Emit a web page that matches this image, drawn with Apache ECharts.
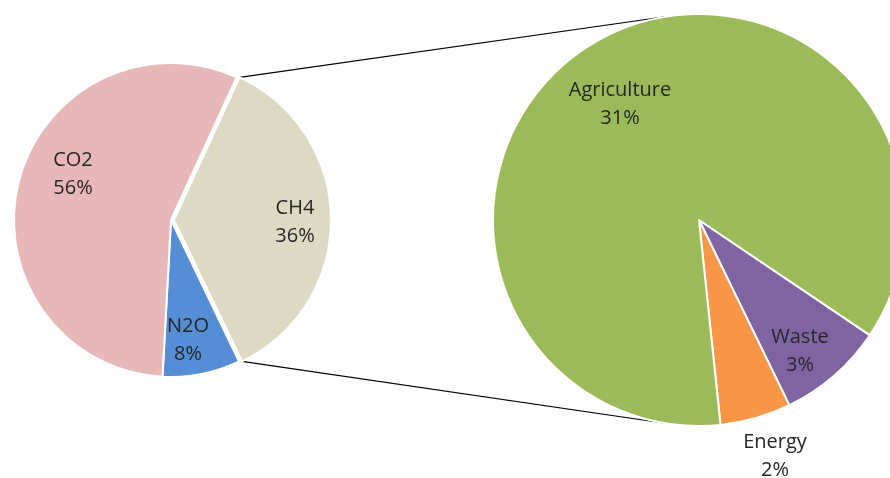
<!DOCTYPE html>
<html>
<head>
<meta charset="utf-8">
<title>Greenhouse gas emissions</title>
<script src="https://cdn.jsdelivr.net/npm/echarts@6/dist/echarts.min.js"></script>
<style>
  html, body { margin: 0; padding: 0; background: #fff; }
  #chart { width: 890px; height: 478px; }
</style>
</head>
<body>
<div id="chart"></div>
<script>
// Main pie: share of each gas (CH4 is broken down in the second pie)
const gasNames = ['CH4', 'N2O', 'CO2'];
const gasShares = [36, 8, 56];
const gasColors = ['#DDD9C3', '#558ED5', '#E6B9B8'];

// Breakdown of CH4 by source (percent of total emissions)
const sourceNames = ['Waste', 'Energy', 'Agriculture'];
const sourceShares = [3, 2, 31];
const sourceColors = ['#8064A2', '#F79646', '#9BBB59'];

// Layout of the two pies
const mainPie = { cx: 171, cy: 220, r: 157, start: 65.3, explode: 3 };
const subPie = { cx: 699, cy: 220, r: 206, start: -34 };
const connectorSpread = 8.5; // degrees either side of the vertical on the second pie
const explodedIndex = 0;     // CH4 is pulled out towards the breakdown

// Label anchors, as offsets from each pie's centre
const mainLabelOffsets = [[124, 2], [17, 120], [-98, -46]];
const subLabelOffsets = [[101, 131], [76, 236], [-79, -116]];

const chart = echarts.init(document.getElementById('chart'), null, { renderer: 'canvas' });

const textStyle = {
  show: true,
  position: 'inside',
  formatter: '{b}\n{c}%',
  color: '#262626',
  fontFamily: 'Open Sans',
  fontSize: 20,
  lineHeight: 28
};

// Point on a circle given a clockwise angle from 12 o'clock
function polar(cx, cy, r, clockDeg) {
  const a = clockDeg * Math.PI / 180;
  return [cx + r * Math.sin(a), cy - r * Math.cos(a)];
}

// Geometry of the exploded CH4 slice
const total = gasShares.reduce((s, v) => s + v, 0);
const ch4From = 90 - mainPie.start;
const ch4Sweep = gasShares[explodedIndex] / total * 360;
const ch4To = ch4From + ch4Sweep;
const mid = ch4From + ch4Sweep / 2;
const [ex, ey] = polar(mainPie.cx, mainPie.cy, mainPie.explode, mid);

// Connector lines from the CH4 slice to the second pie
const p1 = polar(ex, ey, mainPie.r, ch4From);
const p2 = polar(ex, ey, mainPie.r, ch4To);
const q1 = polar(subPie.cx, subPie.cy, subPie.r, 360 - connectorSpread);
const q2 = polar(subPie.cx, subPie.cy, subPie.r, 180 + connectorSpread);

function labelAt(cx, cy, offsets) {
  return function (params) {
    const o = offsets[params.dataIndex];
    return { x: cx + o[0], y: cy + o[1], align: 'center', verticalAlign: 'middle' };
  };
}

const hidden = { color: 'rgba(0,0,0,0)', borderWidth: 0 };

// The main pie is drawn as two layers: the slices that stay in place,
// and the CH4 slice on a centre shifted along its bisector.
function gasData(showExploded) {
  return gasNames.map((n, i) => {
    const visible = (i === explodedIndex) === showExploded;
    return {
      name: n,
      value: gasShares[i],
      itemStyle: visible ? { color: gasColors[i] } : hidden,
      label: { show: visible }
    };
  });
}

const pieBase = {
  type: 'pie',
  z: 2,
  clockwise: true,
  avoidLabelOverlap: false,
  label: textStyle,
  labelLine: { show: false },
  itemStyle: { borderColor: '#fff', borderWidth: 2 },
  emphasis: { disabled: true },
  silent: true
};

chart.setOption({
  animation: false,
  backgroundColor: '#fff',
  graphic: [
    { type: 'line', z: 0, shape: { x1: p1[0], y1: p1[1], x2: q1[0], y2: q1[1] }, style: { stroke: '#000', lineWidth: 1.2 } },
    { type: 'line', z: 0, shape: { x1: p2[0], y1: p2[1], x2: q2[0], y2: q2[1] }, style: { stroke: '#000', lineWidth: 1.2 } }
  ],
  series: [
    Object.assign({}, pieBase, {
      center: [mainPie.cx, mainPie.cy],
      radius: [0, mainPie.r],
      startAngle: mainPie.start,
      labelLayout: labelAt(mainPie.cx, mainPie.cy, mainLabelOffsets),
      data: gasData(false)
    }),
    Object.assign({}, pieBase, {
      center: [ex, ey],
      radius: [0, mainPie.r],
      startAngle: mainPie.start,
      labelLayout: labelAt(mainPie.cx, mainPie.cy, mainLabelOffsets),
      data: gasData(true)
    }),
    Object.assign({}, pieBase, {
      center: [subPie.cx, subPie.cy],
      radius: [0, subPie.r],
      startAngle: subPie.start,
      labelLayout: labelAt(subPie.cx, subPie.cy, subLabelOffsets),
      data: sourceNames.map((n, i) => ({
        name: n, value: sourceShares[i],
        itemStyle: { color: sourceColors[i] }
      }))
    })
  ]
});
</script>
</body>
</html>
